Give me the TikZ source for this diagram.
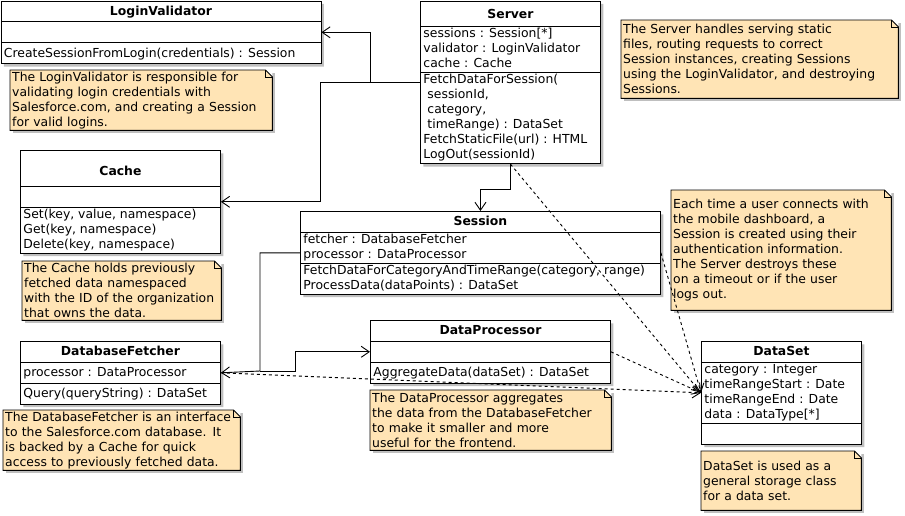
\documentclass[tikz,border=0pt]{standalone}
\usepackage{fontspec}
\setmainfont{DejaVu Sans}
\usetikzlibrary{arrows.meta,shapes.multipart,shadows}
\definecolor{notebg}{RGB}{255,228,181}
% empty row of a given height
\newcommand{\rowh}[1]{\rule[-0.3\dimexpr#1pt\relax]{0pt}{#1pt}}
\tikzset{
    %Define standard arrow tip
    >={Straight Barb[length=8pt,width=11pt]},
    %Define style for class boxes
    umlclass/.style={rectangle split, rectangle split parts=3, draw, fill=white,
        rectangle split part align={center,left,left}, align=left, anchor=north west,
        inner xsep=3pt, inner ysep=0pt, line width=0.9pt,
        font=\fontsize{12.4}{15}\selectfont,
        drop shadow={shadow xshift=3pt, shadow yshift=-3pt, opacity=1, fill=black!25}},
    %Define style for notes
    note/.style={fill=notebg, anchor=north west, inner xsep=2pt, inner ysep=0pt,
        align=left, font=\fontsize{12.4}{15}\selectfont,
        drop shadow={shadow xshift=3pt, shadow yshift=-3pt, opacity=1, fill=black!25}},
    fold/.style={line width=0.9pt},
    assoc/.style={->, line width=0.9pt},
    depend/.style={->, dashed, line width=0.9pt},
}

\begin{document}
\begin{tikzpicture}[x=1pt, y=-1pt]
    \useasboundingbox (0,0) rectangle (905,515);

    % classes
    \node[umlclass, minimum width=320pt] (validator) at (0.5,0.5)
        {\textbf{LoginValidator}\rowh{20}
         \nodepart{two}\rowh{20}
         \nodepart{three}CreateSessionFromLogin(credentials) : Session\rowh{20}};
    \node[umlclass, minimum width=180pt] (server) at (420,0.5)
        {\textbf{Server}\rowh{25}
         \nodepart{two}\strut sessions : Session[*]\\validator : LoginValidator\\cache : Cache\strut
         \nodepart{three}\strut FetchDataForSession(\\\hspace*{4pt}sessionId,\\\hspace*{4pt}category,\\\hspace*{4pt}timeRange) : DataSet\\FetchStaticFile(url) : HTML\\LogOut(sessionId)\strut};
    \node[umlclass, minimum width=200pt] (cache) at (20,150)
        {\textbf{Cache}\rowh{35}
         \nodepart{two}\rowh{20}
         \nodepart{three}\strut Set(key, value, namespace)\\Get(key, namespace)\\Delete(key, namespace)\strut};
    \node[umlclass, minimum width=360pt] (session) at (300,211)
        {\textbf{Session}\rowh{20}
         \nodepart{two}\strut fetcher : DatabaseFetcher\\processor : DataProcessor\strut
         \nodepart{three}\strut FetchDataForCategoryAndTimeRange(category, range)\\ProcessData(dataPoints) : DataSet\strut};
    \node[umlclass, minimum width=240pt] (processor) at (370,320)
        {\textbf{DataProcessor}\rowh{20}
         \nodepart{two}\rowh{20}
         \nodepart{three}AggregateData(dataSet) : DataSet\rowh{20}};
    \node[umlclass, minimum width=200pt] (fetcher) at (20,341)
        {\textbf{DatabaseFetcher}\rowh{20}
         \nodepart{two}processor : DataProcessor\rowh{20}
         \nodepart{three}Query(queryString) : DataSet\rowh{20}};
    \node[umlclass, minimum width=160pt] (dataset) at (701,341)
        {\textbf{DataSet}\rowh{20}
         \nodepart{two}\strut category : Integer\\timeRangeStart : Date\\timeRangeEnd : Date\\data : DataType[*]\strut
         \nodepart{three}\rowh{20}};

    % notes
    \node[note, text width=258pt, minimum height=60pt] (validatornote) at (10,70)
        {The LoginValidator is responsible for\\validating login credentials with\\Salesforce.com, and creating a Session\\for valid logins.};
    \node[note, text width=273pt, minimum height=78pt] (servernote) at (621,20)
        {The Server handles serving static\\files, routing requests to correct\\Session instances, creating Sessions\\using the LoginValidator, and destroying\\Sessions.};
    \node[note, text width=195pt, minimum height=59pt] (cachenote) at (22,261)
        {The Cache holds previously\\fetched data namespaced\\with the ID of the organization\\that owns the data.};
    \node[note, text width=216pt, minimum height=120pt] (sessionnote) at (671,190)
        {Each time a user connects with\\the mobile dashboard, a\\Session is created using their\\authentication information.\\The Server destroys these\\on a timeout or if the user\\logs out.};
    \node[note, text width=237pt, minimum height=60pt] (processornote) at (370,390)
        {The DataProcessor aggregates\\the data from the DatabaseFetcher\\to make it smaller and more\\useful for the frontend.};
    \node[note, text width=233pt, minimum height=60pt] (fetchernote) at (3,410)
        {The DatabaseFetcher is an interface\\to the Salesforce.com database. It\\is backed by a Cache for quick\\access to previously fetched data.};
    \node[note, text width=156pt, minimum height=59pt] (datasetnote) at (701,451)
        {DataSet is used as a\\general storage class\\for a data set.};

    % note outlines with folded corner
    \foreach \n in {validatornote,servernote,cachenote,sessionnote,processornote,fetchernote,datasetnote} {
        \fill[white] ([xshift=-7pt]\n.north east) -- (\n.north east) -- ([yshift=-7pt]\n.north east) -- cycle;
        \draw[fold] (\n.north west) -- ([xshift=-7pt]\n.north east) -- ([yshift=-7pt]\n.north east)
            |- (\n.south west) -- cycle;
        \draw[fold] ([xshift=-7pt]\n.north east) -- ([xshift=-7pt,yshift=-7pt]\n.north east)
            -- ([yshift=-7pt]\n.north east);
    }

    % associations
    \draw[assoc] (server.west) -- ++(-50,0) |- (validator.east);
    \draw[assoc] (server.west) -- ++(-100,0) |- (cache.east);
    \draw[assoc] (server.south) -- ++(0,25) -| (session.north);
    \coordinate (split) at (260,371);
    \draw[assoc] (session.west) -| (split) -- (fetcher.east);
    \draw[assoc] (split) -- ++(35,0) |- (processor.west);

    % dependencies
    \draw[depend] (server.south) -- (dataset.west);
    \draw[depend] (session.east) -- (dataset.west);
    \draw[depend] (processor.east) -- (dataset.west);
    \draw[depend] (fetcher.east) -- (dataset.west);
\end{tikzpicture}
\end{document}
